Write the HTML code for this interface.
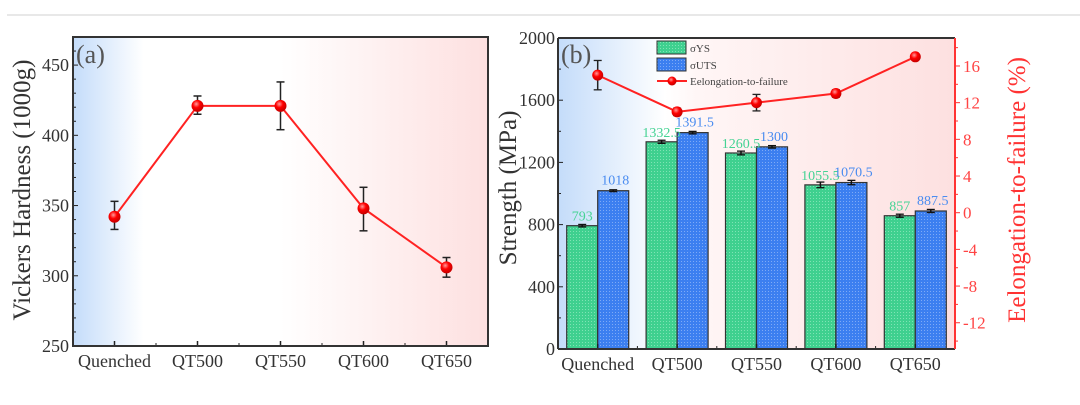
<!DOCTYPE html>
<html><head><meta charset="utf-8"><style>
html,body{margin:0;padding:0;background:#fff;}
svg{display:block;font-family:"Liberation Serif",serif;}
</style></head><body>
<svg width="1080" height="405" viewBox="0 0 1080 405">
<defs>
<linearGradient id="bgA" x1="0" x2="1" y1="0" y2="0">
<stop offset="0" stop-color="#c4dcfa"/><stop offset="0.17" stop-color="#ffffff"/>
<stop offset="0.5" stop-color="#ffffff"/><stop offset="1" stop-color="#fde0e0"/></linearGradient>
<linearGradient id="bgB" x1="0" x2="1" y1="0" y2="0">
<stop offset="0" stop-color="#c4dcfa"/><stop offset="0.27" stop-color="#ffffff"/>
<stop offset="0.35" stop-color="#fff6f6"/><stop offset="1" stop-color="#fde0e0"/></linearGradient>
<pattern id="pg" width="3" height="3" patternUnits="userSpaceOnUse"><rect width="3" height="3" fill="#3fd08f"/><rect width="1" height="1" fill="#7fe3b4"/></pattern>
<pattern id="pb" width="3" height="3" patternUnits="userSpaceOnUse"><rect width="3" height="3" fill="#3c7ff0"/><rect width="1" height="1" fill="#7eaaf6"/></pattern>
<radialGradient id="ball" cx="0.4" cy="0.35" r="0.6"><stop offset="0" stop-color="#ff9a9a"/><stop offset="0.5" stop-color="#f00"/><stop offset="1" stop-color="#c00"/></radialGradient>
</defs>
<line x1="7" y1="15" x2="1080" y2="15" stroke="#d0d0d0" stroke-width="1"/>
<g id="chartA"></g>
<g id="chartB"></g>
</svg>
<script>
const cats = ["Quenched","QT500","QT550","QT600","QT650"];
const hardness = [342, 421, 421, 348, 306];
const hardLo = [333, 415, 404, 332, 299];
const hardHi = [353, 428, 438, 363, 313];
const hardTicks = [250, 300, 350, 400, 450];
const ys = [793, 1332.5, 1260.5, 1055.5, 857];
const uts = [1018, 1391.5, 1300, 1070.5, 887.5];
const ysErr = [8, 10, 12, 18, 10];
const utsErr = [6, 8, 8, 14, 10];
const ysLabels = ["793","1332.5","1260.5","1055.5","857"];
const utsLabels = ["1018","1391.5","1300","1070.5","887.5"];
const elong = [15, 11, 12, 13, 17];
const elongErr = [1.6, 0.4, 0.9, 0.4, 0.3];
const strTicks = [0, 400, 800, 1200, 1600, 2000];
const elTicks = [-12, -8, -4, 0, 4, 8, 12, 16];

const NS = "http://www.w3.org/2000/svg";
function mk(parent, tag, attrs, text){const e=document.createElementNS(NS,tag);for(const k in attrs)e.setAttribute(k,attrs[k]);if(text!==undefined)e.textContent=text;parent.appendChild(e);return e;}

// ---------- Chart A ----------
(function(){
const g=document.getElementById('chartA');
const L=73,R=488,T=37,B=346;
const yA=v=>B-(v-250)*(B-T)/(470-250);
const bw=(R-L)/cats.length;
const xA=i=>L+bw*(i+0.5);
let e=mk(g,'rect',{x:L,y:T,width:R-L,height:B-T,fill:'url(#bgA)'});


for(let v=250;v<=470;v+=10){const y=yA(v);const maj=v%50===0;mk(g,'line',{x1:L,y1:y,x2:L+(maj?5:3),y2:y,stroke:'#222','stroke-width':1});}
hardTicks.forEach(v=>{e=mk(g,'text',{x:L-4,y:yA(v)+6,'font-size':18,'text-anchor':'end',fill:'#333'},v);

});
cats.forEach((c,i)=>{mk(g,'line',{x1:xA(i),y1:B,x2:xA(i),y2:B-5,stroke:'#222','stroke-width':1.5});
if(i<cats.length-1)mk(g,'line',{x1:L+bw*(i+1),y1:B,x2:L+bw*(i+1),y2:B-3,stroke:'#222','stroke-width':1});
e=mk(g,'text',{x:xA(i),y:B+21,'font-size':18,'text-anchor':'middle',fill:'#333'},c);

});
e=mk(g,'polyline',{points:hardness.map((v,i)=>xA(i)+','+yA(v)).join(' '),fill:'none',stroke:'#f22','stroke-width':2});


hardness.forEach((v,i)=>{const x=xA(i);
mk(g,'line',{x1:x,y1:yA(hardLo[i]),x2:x,y2:yA(hardHi[i]),stroke:'#222','stroke-width':1.5});
mk(g,'line',{x1:x-4,y1:yA(hardLo[i]),x2:x+4,y2:yA(hardLo[i]),stroke:'#222','stroke-width':1.5});
mk(g,'line',{x1:x-4,y1:yA(hardHi[i]),x2:x+4,y2:yA(hardHi[i]),stroke:'#222','stroke-width':1.5});
e=mk(g,'circle',{cx:x,cy:yA(v),r:6,fill:'url(#ball)'});

});
mk(g,'rect',{x:L,y:T,width:R-L,height:B-T,fill:'none',stroke:'#333','stroke-width':2});
e=mk(g,'text',{x:76,y:63,'font-size':26,fill:'#555'},'(a)');


e=mk(g,'text',{x:0,y:0,'font-size':25,'text-anchor':'middle',fill:'#333',transform:'translate(30,190) rotate(-90)'},'Vickers Hardness (1000g)');


})();

// ---------- Chart B ----------
(function(){
const g=document.getElementById('chartB');
const L=558,R=955,T=38,B=349;
const yS=v=>B-v*(B-T)/2000;
const yE=v=>212.7-v*9.17;
const bw=(R-L)/cats.length;
const xB=i=>L+bw*(i+0.5);
let e=mk(g,'rect',{x:L,y:T,width:R-L,height:B-T,fill:'url(#bgB)'});


for(let v=0;v<=2000;v+=200){const y=yS(v);mk(g,'line',{x1:L,y1:y,x2:L+(v%400===0?5:3),y2:y,stroke:'#222','stroke-width':1});}
strTicks.forEach(v=>{e=mk(g,'text',{x:L-3,y:yS(v)+6,'font-size':18,'text-anchor':'end',fill:'#333'},v);

});
for(let v=-14;v<=18;v+=2){const y=yE(v);mk(g,'line',{x1:R,y1:y,x2:R+(v%4===0?5:3),y2:y,stroke:'#f33','stroke-width':1});}
elTicks.forEach(v=>{e=mk(g,'text',{x:R+8,y:yE(v)+6,'font-size':17,fill:'#f44'},v);

});
const w=31;
cats.forEach((c,i)=>{const x=xB(i);
e=mk(g,'rect',{x:x-w,y:yS(ys[i]),width:w,height:B-yS(ys[i]),fill:'url(#pg)',stroke:'#333','stroke-width':1.2});


e=mk(g,'rect',{x:x,y:yS(uts[i]),width:w,height:B-yS(uts[i]),fill:'url(#pb)',stroke:'#333','stroke-width':1.2});


[[x-w/2,ys[i],ysErr[i]],[x+w/2,uts[i],utsErr[i]]].forEach(([cx,v,er])=>{
mk(g,'line',{x1:cx,y1:yS(v-er),x2:cx,y2:yS(v+er),stroke:'#111','stroke-width':1.5});
mk(g,'line',{x1:cx-4,y1:yS(v-er),x2:cx+4,y2:yS(v-er),stroke:'#111','stroke-width':1.3});
mk(g,'line',{x1:cx-4,y1:yS(v+er),x2:cx+4,y2:yS(v+er),stroke:'#111','stroke-width':1.3});});
e=mk(g,'text',{x:x-w/2,y:yS(ys[i])-5,'font-size':14,'text-anchor':'middle',fill:'#45d394'},ysLabels[i]);


e=mk(g,'text',{x:x+w/2+2,y:yS(uts[i])-6,'font-size':14,'text-anchor':'middle',fill:'#4a8cf0'},utsLabels[i]);


mk(g,'line',{x1:x,y1:B,x2:x,y2:B-5,stroke:'#222','stroke-width':1.5});
if(i<cats.length-1)mk(g,'line',{x1:L+bw*(i+1),y1:B,x2:L+bw*(i+1),y2:B-3,stroke:'#222','stroke-width':1});
e=mk(g,'text',{x:x,y:B+21,'font-size':18,'text-anchor':'middle',fill:'#333'},c);

});
e=mk(g,'polyline',{points:elong.map((v,i)=>xB(i)+','+yE(v)).join(' '),fill:'none',stroke:'#f22','stroke-width':2});


elong.forEach((v,i)=>{const x=xB(i);
mk(g,'line',{x1:x,y1:yE(v-elongErr[i]),x2:x,y2:yE(v+elongErr[i]),stroke:'#222','stroke-width':1.5});
mk(g,'line',{x1:x-4,y1:yE(v-elongErr[i]),x2:x+4,y2:yE(v-elongErr[i]),stroke:'#222','stroke-width':1.3});
mk(g,'line',{x1:x-4,y1:yE(v+elongErr[i]),x2:x+4,y2:yE(v+elongErr[i]),stroke:'#222','stroke-width':1.3});
e=mk(g,'circle',{cx:x,cy:yE(v),r:5.5,fill:'url(#ball)'});

});
mk(g,'line',{x1:L,y1:T,x2:R,y2:T,stroke:'#333','stroke-width':2});
mk(g,'line',{x1:L,y1:B,x2:R,y2:B,stroke:'#333','stroke-width':2});
mk(g,'line',{x1:L,y1:T,x2:L,y2:B,stroke:'#333','stroke-width':2});
mk(g,'line',{x1:R,y1:T,x2:R,y2:B,stroke:'#f33','stroke-width':2});
// legend
const lg=mk(g,'g',{});


mk(lg,'rect',{x:657,y:41,width:29,height:13,fill:'url(#pg)',stroke:'#333','stroke-width':1});
mk(lg,'text',{x:690,y:52,'font-size':11,fill:'#444'},'σYS');
mk(lg,'rect',{x:657,y:58,width:29,height:13,fill:'url(#pb)',stroke:'#333','stroke-width':1});
mk(lg,'text',{x:690,y:69,'font-size':11,fill:'#444'},'σUTS');
mk(lg,'line',{x1:657,y1:81,x2:687,y2:81,stroke:'#f22','stroke-width':2});
mk(lg,'circle',{cx:672,cy:81,r:4.5,fill:'url(#ball)'});
mk(lg,'text',{x:690,y:85,'font-size':11,fill:'#444'},'Eelongation-to-failure');
e=mk(g,'text',{x:561,y:63,'font-size':26,fill:'#555'},'(b)');


e=mk(g,'text',{x:0,y:0,'font-size':25,'text-anchor':'middle',fill:'#333',transform:'translate(516,188) rotate(-90)'},'Strength (MPa)');


e=mk(g,'text',{x:0,y:0,'font-size':25,'text-anchor':'middle',fill:'#f33',transform:'translate(1025,190) rotate(-90)'},'Eelongation-to-failure (%)');


})();
</script>
</body></html>
